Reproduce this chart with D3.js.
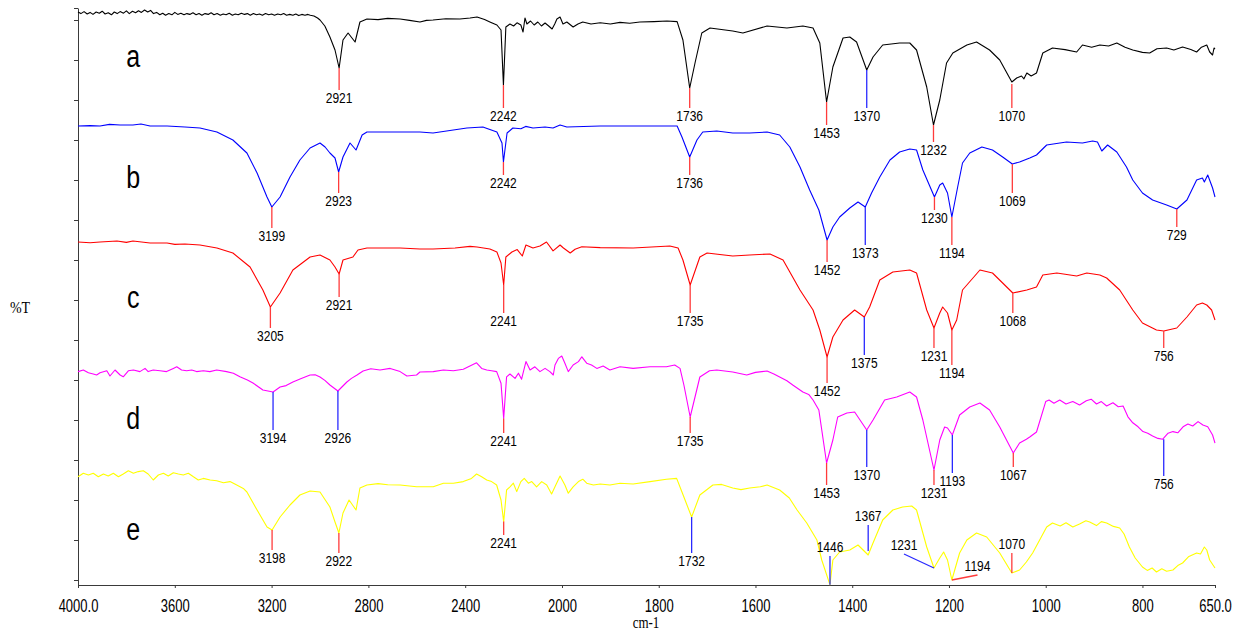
<!DOCTYPE html>
<html>
<head>
<meta charset="utf-8">
<script src="https://cdn.jsdelivr.net/npm/d3@7"></script>
<style>
body { margin: 0; background: #fff; }
svg { display: block; }
</style>
</head>
<body>
<svg id="chart" width="1235" height="632"></svg>
<script>
// x ticks (cm-1) and y ticks (%T, unlabeled)
var xTicks = [4000, 3600, 3200, 2800, 2400, 2000, 1800, 1600, 1400, 1200, 1000, 800, 650];
var yTicks = [0, 10, 20, 30, 40, 50, 60, 70, 80, 90, 100, 110, 120, 130, 140, 143];

var sampleNames = ["a", "b", "c", "d", "e"];
var sampleLabelT = [128.3, 98, 68, 37.75, 10];

// spectra: [wavenumber, %T (stacked)]
var specA = [[4000,142],[3988,141.6],[3975,142.1],[3962,141.5],[3950,141.9],[3938,141.4],[3925,142],[3912,141.7],[3900,142.2],[3888,141.5],[3875,141.8],[3862,141.3],[3850,142],[3838,141.6],[3826,142.1],[3812,141.7],[3800,142.3],[3788,141.6],[3775,142.2],[3762,141.8],[3750,142.3],[3738,141.9],[3725,142.5],[3712,142],[3700,142.4],[3688,141.6],[3675,141.9],[3662,141.3],[3650,141.7],[3638,141.2],[3625,141.6],[3612,141.3],[3600,141.9],[3588,141.4],[3575,141.7],[3562,141.3],[3550,141.6],[3538,141.4],[3525,141.8],[3512,141.3],[3500,141.6],[3488,141.2],[3475,141.6],[3462,141.4],[3450,141.8],[3438,141.3],[3425,141.6],[3412,141.2],[3400,141.5],[3388,141.3],[3375,141.7],[3362,141.2],[3350,141.5],[3338,141.3],[3325,141.7],[3312,141.4],[3300,141.6],[3288,141.2],[3275,141.6],[3262,141.3],[3250,141.5],[3238,141.2],[3225,141.6],[3212,141.3],[3200,141.5],[3188,141.2],[3175,141.5],[3162,141.3],[3150,141.6],[3138,141.2],[3125,141.4],[3112,141.2],[3100,141.5],[3088,141.1],[3075,141.4],[3062,141.2],[3050,141.4],[3040,141.2],[3025,141],[3010,140.5],[3000,140],[2980,138.5],[2959,135.75],[2938,132.5],[2921,128],[2905,135],[2884,136.75],[2855,134.5],[2835,139.5],[2806,140.25],[2760,140.1],[2720,140.4],[2669,140.25],[2630,139.9],[2587,139.5],[2560,139.9],[2533,140],[2480,140.3],[2422,140.25],[2380,140.5],[2351,140.75],[2320,140.1],[2298,139.5],[2269,138.75],[2252,137.5],[2242,123.75],[2232,138.25],[2215,139],[2200,138.5],[2186,139.3],[2170,138.75],[2161,137],[2153,140.5],[2145,139],[2130,139.75],[2115,138.75],[2100,139.5],[2085,138.5],[2070,139.25],[2055,138.5],[2041,137.75],[2030,139],[2021,140.25],[2008,140.75],[1998,139],[1990,139.5],[1977,138.25],[1967,139],[1957,139.5],[1940,139],[1921,139.3],[1900,139],[1880,139.4],[1860,139.2],[1839,139.5],[1810,139.6],[1783,139.75],[1762,139.6],[1750,135],[1736,123],[1725,129.25],[1711,136.75],[1694,138],[1647,137.25],[1626,136.75],[1576,138.5],[1535,138],[1502,138.5],[1481,138],[1467,134.25],[1453,119.5],[1440,128.25],[1419,135.5],[1405,135.75],[1391,134.5],[1370,127.5],[1357,130.75],[1337,133.75],[1302,134.25],[1281,134.25],[1267,132.5],[1246,123.25],[1232,113.75],[1219,120],[1205,129.25],[1192,131.75],[1163,133.75],[1143,134.5],[1116,132.5],[1095,130],[1070,124.5],[1060,125.5],[1050,126],[1045,125.3],[1039,126.75],[1030,126],[1019,126.75],[1006,131.75],[986,133],[960,132.6],[936,132],[924,133.75],[905,133.2],[888,133.75],[870,133.5],[853,134.25],[836,133.2],[820,132.5],[800,131.9],[785,131.75],[770,132.8],[750,133],[735,132.5],[717,133.25],[700,132.6],[688,132],[678,133.2],[667,133.75],[661,132],[655,131.25],[652,133],[650,132.75]];

var specB = [[4000,113.5],[3950,113.6],[3909,113.5],[3870,113.9],[3826,113.75],[3773,113.75],[3740,114],[3702,113.5],[3632,113.5],[3558,113.25],[3496,113],[3426,112],[3360,110],[3302,106.75],[3260,101.75],[3219,95.75],[3199,93.25],[3165,95.75],[3124,100.75],[3083,105],[3041,108],[3000,109.25],[2979,108.25],[2959,106.75],[2938,105.5],[2923,102],[2905,105.75],[2876,109.25],[2851,107.5],[2826,111.25],[2806,112],[2669,112],[2587,112],[2533,111.75],[2393,113],[2327,113.25],[2269,112],[2248,109.25],[2242,104.5],[2227,111.75],[2203,113],[2170,112.8],[2150,113.4],[2120,113],[2070,113.25],[2037,113],[2008,113.75],[1990,113.25],[1921,113.5],[1853,113.5],[1762,113.5],[1752,110.75],[1736,105.75],[1721,110],[1709,112],[1680,112.25],[1647,111.75],[1612,111.75],[1576,112],[1550,111.25],[1529,108.25],[1508,103.25],[1488,97.5],[1469,92.5],[1452,85],[1440,88.25],[1426,90.75],[1405,93],[1388,94.5],[1373,93.25],[1360,96.75],[1343,100.75],[1322,105],[1302,107],[1281,107.75],[1267,107.5],[1254,102.5],[1230,95.75],[1219,98.75],[1213,99.25],[1203,96.75],[1194,90.75],[1182,98.25],[1172,104.25],[1157,106.75],[1132,108.25],[1110,107.5],[1089,105.75],[1069,104],[1054,104.5],[1033,105.5],[1019,106.25],[998,108.75],[957,109.5],[924,109.25],[903,109.75],[893,109.5],[884,107.25],[872,108.75],[853,107],[833,103.25],[820,100],[800,96.75],[779,95],[750,93.75],[729,92.75],[708,95],[688,100],[676,100.5],[672,99.5],[665,101.25],[655,98],[650,95.75]];

var specC = [[4000,84.5],[3950,84.3],[3909,84.5],[3839,84.75],[3800,84.4],[3773,84.75],[3702,84.25],[3632,84.25],[3600,83.9],[3558,84],[3496,83.75],[3426,83],[3360,81.75],[3289,78.25],[3236,72.5],[3205,68.25],[3165,71.75],[3112,77.5],[3041,80.75],[3000,81.25],[2959,80],[2938,78.25],[2921,76.5],[2905,80],[2864,80.75],[2843,82.5],[2806,83],[2669,83],[2587,82.75],[2533,82.75],[2442,83],[2380,83.4],[2351,83.25],[2298,82.75],[2269,82],[2252,79.25],[2241,73.75],[2232,80.75],[2207,82],[2185,82.6],[2164,81],[2149,83.75],[2120,83],[2091,83.5],[2064,84.5],[2037,82.3],[2008,83.75],[1997,83],[1983,81.75],[1973,82.7],[1959,83.3],[1921,83.1],[1853,83],[1777,83.5],[1760,83],[1750,80],[1735,73.75],[1715,80.75],[1700,81.75],[1647,81],[1612,81.25],[1570,81.5],[1543,80],[1508,72.5],[1481,67.5],[1467,62.5],[1452,55.75],[1440,60.75],[1419,65],[1395,67.5],[1375,65.75],[1364,68.25],[1343,75],[1316,77],[1281,77.5],[1267,76.75],[1246,67.5],[1231,63],[1219,66.75],[1213,68.25],[1203,66.75],[1194,62.5],[1184,65],[1172,72.5],[1136,77.5],[1110,76.75],[1089,74.25],[1068,71.75],[1039,72.5],[1019,73.25],[1006,76.25],[977,76.75],[936,76],[915,76.75],[888,76.25],[874,75.5],[847,72.5],[820,67.5],[800,64.25],[771,62.5],[756,62.25],[729,63],[708,65.75],[688,68.75],[676,69.25],[667,68.75],[657,67.5],[650,65]];

var specD = [[4000,52.1],[3978,52.5],[3957,51.8],[3937,51.5],[3923,51.25],[3909,51.8],[3881,52.3],[3868,51],[3847,52.5],[3826,51.25],[3813,50.8],[3792,52.3],[3771,52.5],[3744,52.1],[3723,52.9],[3710,52.1],[3689,52.5],[3661,52.3],[3634,52.1],[3606,52.9],[3592,53.3],[3572,52.5],[3551,52.3],[3530,52.5],[3510,52.1],[3482,52.3],[3455,52.1],[3427,52.5],[3386,52.1],[3358,51.7],[3331,50.8],[3300,50],[3277,49.25],[3236,47.5],[3194,47],[3165,48.25],[3140,48.6],[3112,49.5],[3080,50.3],[3041,51.25],[3020,51.3],[3000,50.75],[2980,49.9],[2959,48.75],[2926,47.25],[2889,49.5],[2870,50.4],[2847,51.25],[2822,52.25],[2790,52.8],[2752,52.5],[2710,52.9],[2669,52.1],[2641,51],[2601,51.25],[2587,52],[2532,52.1],[2490,52.5],[2449,52.3],[2408,52.7],[2353,54.3],[2332,52.9],[2311,52.5],[2291,52.3],[2270,52.1],[2252,49.2],[2241,40.4],[2229,50.8],[2215,51.5],[2194,50.4],[2180,51.7],[2167,50.2],[2149,54.6],[2132,52.5],[2112,53.3],[2091,52.1],[2070,52.9],[2050,52.1],[2036,51.25],[2029,53.75],[2015,55.4],[2001,56],[1994,54.2],[1987,52.1],[1977,53.75],[1966,54.6],[1959,55.8],[1949,54.2],[1939,53.75],[1928,52.9],[1915,53.5],[1901,52.5],[1880,53.3],[1853,52.9],[1818,53.3],[1784,53.3],[1767,53.75],[1756,52.9],[1748,48.75],[1735,40.75],[1715,50.75],[1695,52.3],[1680,52.5],[1647,52],[1618,51.25],[1600,51.9],[1576,52.25],[1562,51.5],[1550,50.75],[1535,49.8],[1523,48.75],[1502,47],[1490,46.4],[1481,45],[1469,42.5],[1453,29.25],[1440,35],[1430,40.75],[1411,41.75],[1395,42],[1370,37.5],[1357,40],[1333,45],[1308,45.75],[1281,47],[1267,45.75],[1254,40],[1231,27.5],[1219,35],[1209,38.25],[1203,38],[1193,36.25],[1178,41.25],[1157,43.25],[1136,44.25],[1116,42.5],[1095,38.25],[1067,31.75],[1054,34.25],[1040,35.2],[1033,35.75],[1019,37],[1000,44.6],[993,45],[983,44.2],[971,45],[958,44],[944,44.6],[930,43.75],[916,44.8],[906,45.2],[895,44],[885,44.6],[874,43.5],[861,44.3],[850,43.3],[840,43.5],[830,40.8],[820,39.3],[809,38.3],[799,37.1],[789,36.7],[779,36],[768,35.4],[758,35.2],[747,36.7],[737,37.1],[727,36.8],[716,38.3],[706,39],[696,38.5],[685,39.6],[675,38.75],[665,38.3],[655,36.25],[650,34.2]];

var specE = [[4000,25.8],[3978,26.7],[3957,26.25],[3937,26.7],[3916,25.8],[3895,26.5],[3875,26],[3854,26.7],[3833,25.8],[3813,26.5],[3792,27.3],[3771,26.7],[3751,27.1],[3730,27.3],[3710,26.5],[3689,25],[3668,26.25],[3647,26.7],[3627,26],[3606,26.8],[3585,26.5],[3565,26.25],[3544,26.7],[3523,25.8],[3503,25],[3482,25.4],[3454,25],[3427,24.8],[3399,24.3],[3372,24.6],[3344,23.75],[3317,22.9],[3302,22],[3260,17.5],[3219,13.25],[3198,12.5],[3165,15.75],[3124,18.75],[3083,21.25],[3041,22.25],[3000,22],[2959,18.25],[2938,14.5],[2922,11.75],[2905,16.75],[2880,20],[2851,17.5],[2835,23],[2806,23.75],[2760,24.1],[2720,23.8],[2669,23.75],[2601,23.3],[2532,23.3],[2490,24.2],[2449,24.2],[2408,24.6],[2374,25.4],[2353,26.5],[2332,25.8],[2311,25],[2291,24.6],[2270,23.75],[2252,20],[2241,14.6],[2229,22.5],[2215,23.3],[2201,24.2],[2187,22.1],[2170,24.6],[2156,25.4],[2139,24.2],[2125,24.6],[2105,23.3],[2084,24.6],[2063,23.75],[2043,21.5],[2029,23.3],[2008,26],[1994,23.75],[1987,21.7],[1977,23.3],[1966,24.6],[1957,25.2],[1949,24.2],[1935,23.75],[1921,24],[1901,23.75],[1880,24.2],[1853,24],[1818,24.6],[1784,25.2],[1763,25.4],[1752,22],[1732,15.75],[1715,21.25],[1688,23.75],[1670,23.9],[1647,23],[1630,22.6],[1612,23],[1590,23.3],[1576,23.75],[1550,22.5],[1530,20.5],[1514,17.5],[1494,14.25],[1473,10],[1463,5],[1446,-1.2],[1440,5],[1426,7],[1405,7.5],[1388,8.75],[1367,6.25],[1357,9.25],[1337,15],[1316,17.5],[1296,18.25],[1277,18.5],[1267,17.5],[1246,8.25],[1231,3],[1219,5.5],[1211,7],[1203,5],[1194,0],[1178,6.75],[1163,10],[1143,11.75],[1122,10.75],[1095,6.75],[1070,1.75],[1054,2.5],[1040,4.5],[1027,6.75],[998,13.25],[986,14.25],[970,13.5],[958,14.3],[944,13.25],[930,14],[917,14.8],[909,14.5],[895,13.6],[885,14.6],[874,14.25],[860,13.4],[847,13],[838,11.5],[827,8.25],[815,5.5],[800,3.25],[790,2.4],[780,3],[771,2],[760,2.8],[750,2.2],[737,2.5],[727,3.6],[717,4.25],[705,5.8],[688,6.75],[680,6.5],[672,8.25],[667,7.5],[661,5],[650,3]];

// peak marks: [wavenumber, %T at curve, %T at line end, kind (1 red, 2 blue), end wavenumber (optional)]
var peaksA = [[2921,128,122.5,1],[2242,123.75,118,1],[1736,123,118,1],[1453,119.5,113.75,1],[1370,127.5,118,2],[1232,113.75,109.5,1],[1070,124,118,1]];
var peaksB = [[3199,93.25,88,1],[2923,102,96.75,1],[2242,104.5,101.25,1],[1736,105.75,101.25,1],[1452,85,79.5,1],[1373,93.25,83.75,2],[1230,95.75,92.5,1],[1194,90.75,83.75,1],[1069,104,96.75,1],[729,92.75,88.25,1]];
var peaksC = [[3205,68.25,63,1],[2921,76.5,70.75,1],[2241,73.75,66.75,1],[1735,73.75,66.75,1],[1452,55.75,49.25,1],[1375,65.75,56.25,2],[1231,63,58,1],[1194,62.5,53.75,1],[1068,71.75,66.75,1],[756,62.25,58,1]];
var peaksD = [[3194,47,37.5,2],[2926,47.25,37.5,2],[2241,40.4,36.75,1],[1735,40.75,36.75,1],[1453,29.25,23.75,1],[1370,37.5,28.25,2],[1231,27.5,23.75,1],[1193,36.25,26.75,2],[1067,31.75,28.25,1],[756,35.2,26,2]];
var peaksE = [[3198,12.5,7.5,1],[2922,11.75,6.75,1],[2241,14.6,11.25,1],[1732,15.75,6.75,2],[1446,-1.2,6,2],[1367,7.25,13.75,2],[1231,3,6.5,2,1293],[1194,0,1.25,1,1141],[1070,1.75,6.75,1]];

var spectra = [specA, specB, specC, specD, specE];
var peaks = [peaksA, peaksB, peaksC, peaksD, peaksE];
var lineColors = ["#000000", "#0000ff", "#ff0000", "#ff00ff", "#ffff00"];
var markColors = { 1: "#ff3b3b", 2: "#2a2aff" };

var sansFont = "'Liberation Sans', Arial, sans-serif";
var serifFont = "'Liberation Serif', 'Times New Roman', serif";

var xScale = d3.scaleLinear().domain([4000, 2000, 650]).range([78, 562, 1215]);
var yScale = d3.scaleLinear().domain([-1.25, 143]).range([585, 8]);

var graph = d3.select("#chart");
graph.append("rect").attr("width", 1235).attr("height", 632).attr("fill", "#fff");

function addText(parent, x, y, str, size, sy, family) {
    return parent.append("text")
        .attr("transform", "translate(" + x + "," + y + ") scale(1," + sy + ")")
        .attr("text-anchor", "middle")
        .attr("font-size", size)
        .attr("font-family", family)
        .attr("fill", "#000")
        .text(str);
}

// axes
var xAxis = d3.axisBottom(xScale)
    .tickValues(xTicks)
    .tickSize(3)
    .tickSizeOuter(0)
    .tickFormat(function(d){ return (d === 4000 || d === 650) ? d.toFixed(1) : d; });

var gx = graph.append("g")
    .attr("transform", "translate(0,585)")
    .call(xAxis);
gx.attr("font-size", 13).attr("font-family", sansFont);
gx.selectAll("path, line").attr("stroke", "#3a3a3a");
gx.selectAll("text")
    .attr("y", 0)
    .attr("dy", null)
    .attr("fill", "#000")
    .attr("transform", "translate(0,26.5) scale(1,1.35)");

var yAxis = d3.axisLeft(yScale)
    .tickValues(yTicks)
    .tickSize(4)
    .tickSizeOuter(0)
    .tickFormat("");

var gy = graph.append("g")
    .attr("transform", "translate(78,0)")
    .call(yAxis);
gy.selectAll("path, line").attr("stroke", "#3a3a3a");

addText(graph, 646, 628, "cm-1", 13, 1.3, serifFont);
addText(graph, 20, 313, "%T", 14, 1.25, serifFont);

// spectra
var line = d3.line()
    .x(function(d){ return xScale(d[0]); })
    .y(function(d){ return yScale(d[1]); });

graph.append("g").selectAll("path")
    .data(spectra)
    .enter()
    .append("path")
    .attr("d", line)
    .attr("fill", "none")
    .attr("stroke", function(d, i){ return lineColors[i]; })
    .attr("stroke-width", 1.1)
    .attr("stroke-linejoin", "round");

// sample letters
sampleNames.forEach(function(name, i){
    addText(graph, xScale(3772), yScale(sampleLabelT[i]), name, 25, 1.25, sansFont);
});

// peak marks and labels
var marks = graph.append("g");
peaks.forEach(function(list){
    list.forEach(function(p){
        var x0 = xScale(p[0]);
        var x1 = xScale(p.length > 4 ? p[4] : p[0]);
        var y0 = yScale(p[1]);
        var y1 = yScale(p[2]);
        marks.append("line")
            .attr("x1", x0).attr("y1", y0)
            .attr("x2", x1).attr("y2", y1)
            .attr("stroke", markColors[p[3]])
            .attr("stroke-width", 1.3);
        var below = p[2] < p[1];
        var ty = below ? y1 + 12.7 : y1 - 4.3;
        addText(marks, x1, ty, String(p[0]), 12, 1.15, sansFont);
    });
});
</script>
</body>
</html>
